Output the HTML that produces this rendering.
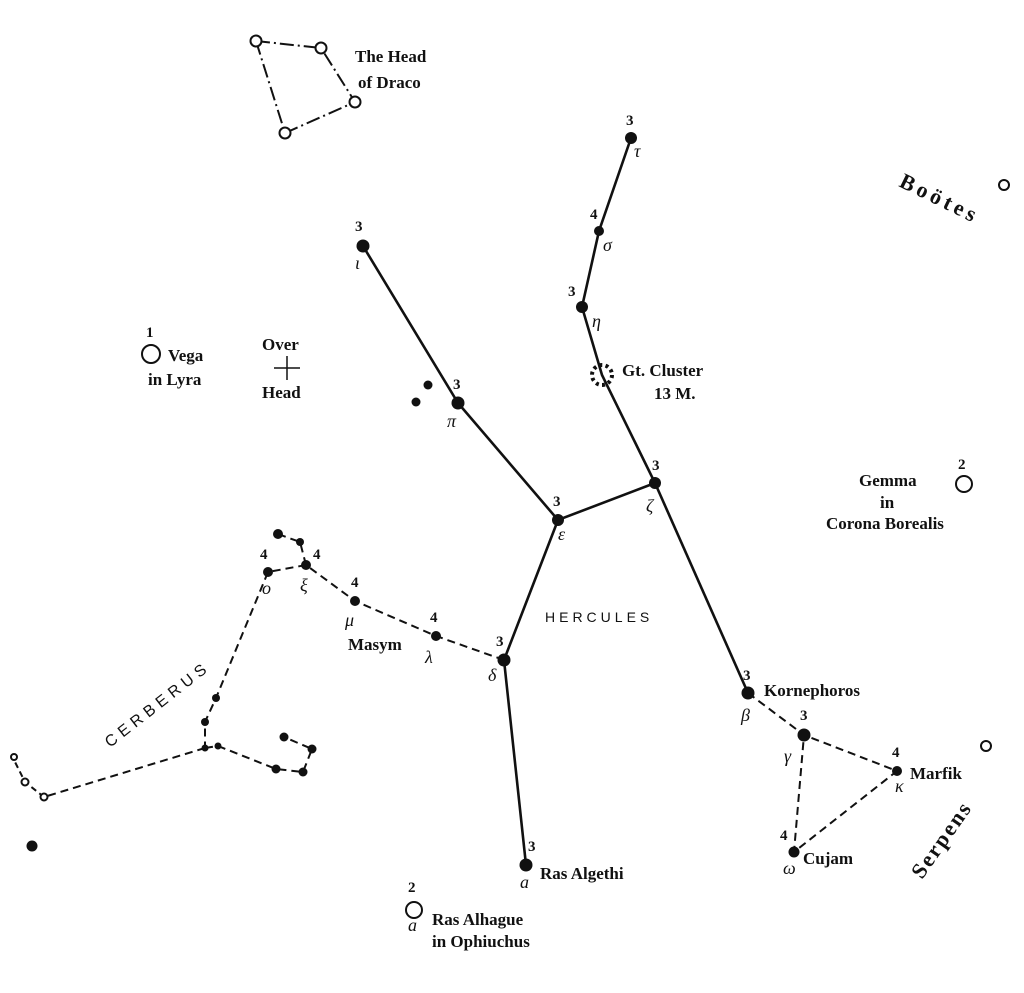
<!DOCTYPE html>
<html><head><style>
html,body{margin:0;padding:0;background:#fff}
svg{display:block}
text{font-family:"Liberation Serif",serif;fill:#111}
.l{font-size:17px;font-weight:bold}
.n{font-size:15px;font-weight:bold}
.g{font-size:18px;font-style:italic}
.s{font-family:"Liberation Sans",sans-serif;font-size:14px;letter-spacing:4px}
</style></head><body>
<svg width="1024" height="993" viewBox="0 0 1024 993" xmlns="http://www.w3.org/2000/svg">
<g stroke="#111" stroke-width="2.6" fill="none">
<polyline points="631,138 599,231 582,307 602,375 655,483 558,520 458,403 363,246"/>
<polyline points="558,520 504,660 526,865"/>
<polyline points="655,483 748,693"/>
</g>
<g stroke="#111" stroke-width="2" fill="none" stroke-dasharray="8,5">
<polyline points="748,693 804,735 897,771 794,852 804,735"/>
<polyline points="504,660 436,636 355,601 306,565 268,572 216,698 205,722 205,748"/>
<polyline points="205,748 44,797"/>
<polyline points="205,748 218,746 276,769 303,772 312,749 284,737"/>
<polyline points="306,565 300,542 278,534"/>
</g>
<g stroke="#111" stroke-width="2" fill="none" stroke-dasharray="14,4,2,4">
<polygon points="256,41 321,48 355,102 285,133"/>
</g>
<g stroke="#111" stroke-width="2" fill="none" stroke-dasharray="6,4"><polyline points="44,797 25,782 14,760"/></g>
<g fill="#111">
<circle cx="631" cy="138" r="6"/><circle cx="599" cy="231" r="5"/><circle cx="582" cy="307" r="6"/>
<circle cx="655" cy="483" r="6"/><circle cx="558" cy="520" r="6"/><circle cx="458" cy="403" r="6.5"/>
<circle cx="363" cy="246" r="6.5"/><circle cx="504" cy="660" r="6.5"/><circle cx="526" cy="865" r="6.5"/>
<circle cx="436" cy="636" r="5"/><circle cx="355" cy="601" r="5"/><circle cx="306" cy="565" r="5"/>
<circle cx="268" cy="572" r="5"/><circle cx="748" cy="693" r="6.5"/><circle cx="804" cy="735" r="6.5"/>
<circle cx="897" cy="771" r="5"/><circle cx="794" cy="852" r="5.5"/>
<circle cx="278" cy="534" r="5"/><circle cx="300" cy="542" r="4"/>
<circle cx="216" cy="698" r="4"/><circle cx="205" cy="722" r="4"/><circle cx="205" cy="748" r="3.5"/><circle cx="218" cy="746" r="3.5"/>
<circle cx="276" cy="769" r="4.5"/><circle cx="303" cy="772" r="4.5"/><circle cx="312" cy="749" r="4.5"/><circle cx="284" cy="737" r="4.5"/>
<circle cx="32" cy="846" r="5.5"/><circle cx="428" cy="385" r="4.5"/><circle cx="416" cy="402" r="4.5"/>
</g>
<g stroke="#111" stroke-width="2" fill="#fff">
<circle cx="256" cy="41" r="5.5"/><circle cx="321" cy="48" r="5.5"/><circle cx="355" cy="102" r="5.5"/><circle cx="285" cy="133" r="5.5"/>
<circle cx="151" cy="354" r="9"/><circle cx="964" cy="484" r="8"/><circle cx="414" cy="910" r="8"/>
<circle cx="1004" cy="185" r="5"/><circle cx="986" cy="746" r="5"/>
<circle cx="44" cy="797" r="3.5"/><circle cx="25" cy="782" r="3.5"/><circle cx="14" cy="757" r="3"/>
</g>
<circle cx="602" cy="375" r="10" fill="none" stroke="#111" stroke-width="4" stroke-dasharray="3,3.3"/>
<g stroke="#111" stroke-width="1.5"><line x1="274" y1="368" x2="300" y2="368"/><line x1="287" y1="356" x2="287" y2="380"/></g>
<text class="l" x="355" y="62">The Head</text><text class="l" x="358" y="88">of Draco</text>
<text class="l" x="168" y="361">Vega</text><text class="l" x="148" y="385">in Lyra</text><text class="n" x="146" y="337">1</text>
<text class="l" x="262" y="350">Over</text><text class="l" x="262" y="398">Head</text>
<text class="l" x="622" y="376">Gt. Cluster</text><text class="l" x="654" y="399">13 M.</text>
<text class="l" x="859" y="486">Gemma</text><text class="l" x="880" y="508">in</text><text class="l" x="826" y="529">Corona Borealis</text><text class="n" x="958" y="469">2</text>
<text class="l" x="764" y="696">Kornephoros</text><text class="l" x="910" y="779">Marfik</text><text class="l" x="803" y="864">Cujam</text>
<text class="l" x="540" y="879">Ras Algethi</text><text class="l" x="432" y="925">Ras Alhague</text><text class="l" x="432" y="947">in Ophiuchus</text><text class="n" x="408" y="892">2</text><text class="g" x="408" y="931">a</text>
<text class="l" x="348" y="650">Masym</text>
<text class="s" x="545" y="622">HERCULES</text>
<text class="s" style="font-size:16px;letter-spacing:5px" transform="translate(110,748) rotate(-38)">CERBERUS</text>
<text class="l" style="font-size:22px;letter-spacing:4px" transform="translate(898,186) rotate(26)">Boötes</text>
<text class="l" style="font-size:22px;letter-spacing:2px" transform="translate(922,880) rotate(-55)">Serpens</text>
<text class="n" x="626" y="125">3</text><text class="n" x="590" y="219">4</text><text class="n" x="568" y="296">3</text>
<text class="n" x="652" y="470">3</text><text class="n" x="553" y="506">3</text><text class="n" x="453" y="389">3</text>
<text class="n" x="355" y="231">3</text><text class="n" x="496" y="646">3</text><text class="n" x="528" y="851">3</text>
<text class="n" x="430" y="622">4</text><text class="n" x="351" y="587">4</text><text class="n" x="313" y="559">4</text>
<text class="n" x="260" y="559">4</text><text class="n" x="743" y="680">3</text><text class="n" x="800" y="720">3</text>
<text class="n" x="892" y="757">4</text><text class="n" x="780" y="840">4</text>
<text class="g" x="634" y="157">τ</text><text class="g" x="603" y="251">σ</text><text class="g" x="592" y="327">η</text>
<text class="g" x="646" y="512">ζ</text><text class="g" x="558" y="540">ε</text><text class="g" x="447" y="427">π</text>
<text class="g" x="355" y="269">ι</text><text class="g" x="488" y="681">δ</text><text class="g" x="520" y="888">a</text>
<text class="g" x="425" y="663">λ</text><text class="g" x="345" y="626">μ</text><text class="g" x="300" y="591">ξ</text>
<text class="g" x="262" y="594">o</text><text class="g" x="741" y="721">β</text><text class="g" x="784" y="762">γ</text>
<text class="g" x="895" y="792">κ</text><text class="g" x="783" y="874">ω</text>
</svg>
</body></html>
